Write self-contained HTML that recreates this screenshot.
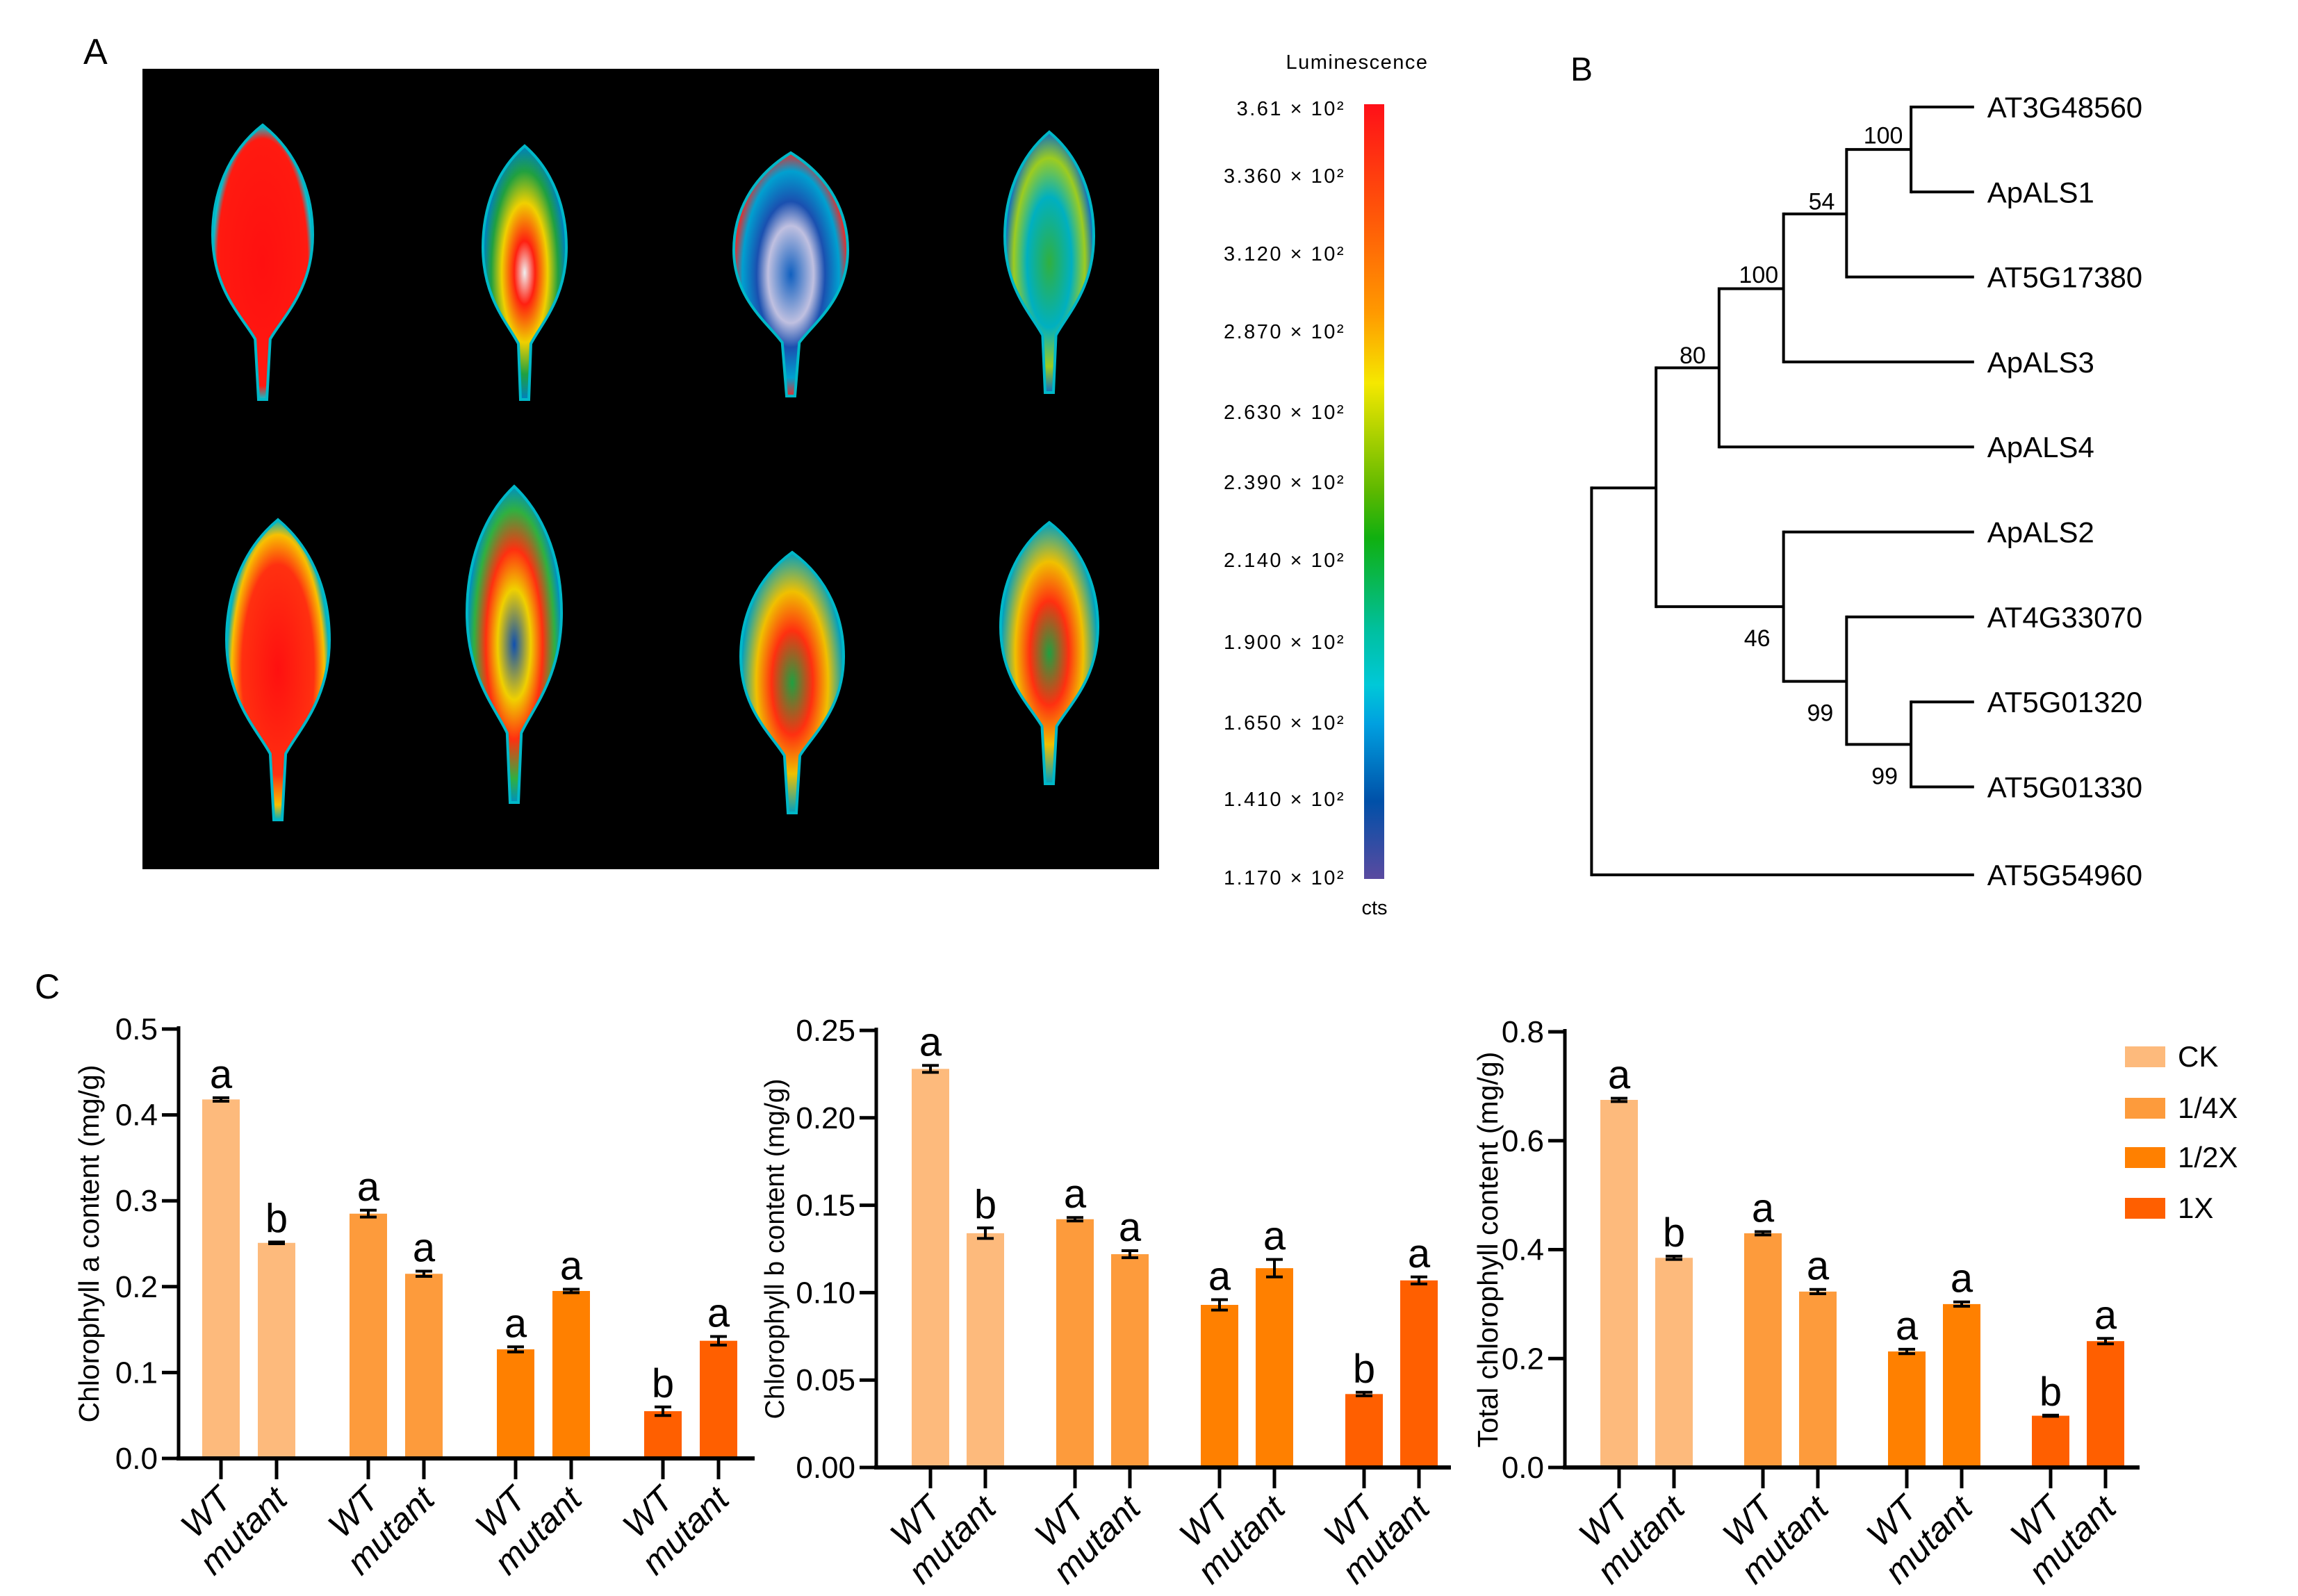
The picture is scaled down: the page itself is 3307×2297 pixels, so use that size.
<!DOCTYPE html>
<html><head><meta charset="utf-8"><style>
body{margin:0;background:#fff}
svg{display:block;font-family:"Liberation Sans",Arial,sans-serif}
</style></head><body>
<svg id="fig" width="3307" height="2297" viewBox="0 0 3307 2297" xmlns="http://www.w3.org/2000/svg">
<defs>
<linearGradient id="cbar" x1="0" y1="0" x2="0" y2="1">
<stop offset="0" stop-color="#ff1018"/><stop offset="0.15" stop-color="#ff5a08"/><stop offset="0.27" stop-color="#ff9a00"/><stop offset="0.36" stop-color="#f5e800"/><stop offset="0.5" stop-color="#5cb800"/><stop offset="0.56" stop-color="#10b010"/><stop offset="0.68" stop-color="#00c0a0"/><stop offset="0.75" stop-color="#00c8d8"/><stop offset="0.8" stop-color="#00a0e0"/><stop offset="0.9" stop-color="#0050a8"/><stop offset="1" stop-color="#5a4aa0"/>
</linearGradient>
<radialGradient id="gRed"><stop offset="0" stop-color="#ff1010"/><stop offset="0.9" stop-color="#ff1a10"/><stop offset="1" stop-color="#00c8d8"/></radialGradient>
<radialGradient id="gMix1"><stop offset="0" stop-color="#f0f0f0"/><stop offset="0.25" stop-color="#ff2010"/><stop offset="0.55" stop-color="#f0d000"/><stop offset="0.8" stop-color="#20a040"/><stop offset="1" stop-color="#0080c0"/></radialGradient>
<radialGradient id="gBlue"><stop offset="0" stop-color="#1060c0"/><stop offset="0.4" stop-color="#c0c0e0"/><stop offset="0.6" stop-color="#1a50b0"/><stop offset="0.85" stop-color="#00a0d0"/><stop offset="1" stop-color="#e03030"/></radialGradient>
<radialGradient id="gGreen"><stop offset="0" stop-color="#30b040"/><stop offset="0.5" stop-color="#00b0c0"/><stop offset="0.8" stop-color="#9ccc20"/><stop offset="1" stop-color="#1070c0"/></radialGradient>
<radialGradient id="gRedO"><stop offset="0" stop-color="#ff1010"/><stop offset="0.7" stop-color="#ff3010"/><stop offset="0.9" stop-color="#f8c000"/><stop offset="1" stop-color="#00b0c0"/></radialGradient>
<radialGradient id="gMix2"><stop offset="0" stop-color="#1050b0"/><stop offset="0.35" stop-color="#f0d000"/><stop offset="0.6" stop-color="#ff3010"/><stop offset="0.85" stop-color="#30b040"/><stop offset="1" stop-color="#0090c0"/></radialGradient>
<radialGradient id="gMix3"><stop offset="0" stop-color="#20a040"/><stop offset="0.4" stop-color="#ff3010"/><stop offset="0.7" stop-color="#f0c000"/><stop offset="1" stop-color="#00a0c0"/></radialGradient>
</defs>
<g id="panelA"></g>
<g id="panelB"></g>
<g id="panelC"></g>
</svg>
<script>
const NS="http://www.w3.org/2000/svg";
function mk(tag,attrs,parent,text){const e=document.createElementNS(NS,tag);for(const k in attrs)e.setAttribute(k,attrs[k]);if(text!==undefined)e.textContent=text;parent.appendChild(e);return e;}

// ---------- Panel C data ----------
const groups=["CK","1/4X","1/2X","1X"];
const genotypes=["WT","mutant"];
const chlA=[0.418,0.251,0.285,0.215,0.127,0.195,0.055,0.137];
const chlAErr=[0.002,0.001,0.004,0.003,0.003,0.002,0.005,0.005];
const chlB=[0.228,0.134,0.142,0.122,0.093,0.114,0.042,0.107];
const chlBErr=[0.002,0.003,0.001,0.002,0.003,0.005,0.001,0.002];
const chlT=[0.675,0.385,0.430,0.323,0.213,0.300,0.095,0.232];
const chlTErr=[0.003,0.003,0.003,0.004,0.004,0.004,0.001,0.005];
const letters=["a","b","a","a","a","a","b","a"];
const ticksA=[0,0.1,0.2,0.3,0.4,0.5];
const ticksB=[0,0.05,0.10,0.15,0.20,0.25];
const ticksT=[0,0.2,0.4,0.6,0.8];
const groupColors=["#fdba7c","#fd9b3c","#ff8000","#ff5f00"];

// ---------- Panel A ----------
const A=document.getElementById('panelA');
const labA=mk('text',{x:120,y:92,'font-size':52},A,'A');

const bg=mk('rect',{x:205,y:99,width:1463,height:1152,fill:'#000'},A);

function leaf(cx,top,bot,hw,fill,name){
  const h=bot-top;const w=top+h*0.4;const pet=top+h*0.78;
  const d=`M${cx},${top} C${cx+hw*0.7},${top+h*0.1} ${cx+hw},${top+h*0.25} ${cx+hw},${w} C${cx+hw},${top+h*0.6} ${cx+hw*0.4},${top+h*0.7} ${cx+hw*0.15},${pet} L${cx+6},${bot} L${cx-6},${bot} L${cx-hw*0.15},${pet} C${cx-hw*0.4},${top+h*0.7} ${cx-hw},${top+h*0.6} ${cx-hw},${w} C${cx-hw},${top+h*0.25} ${cx-hw*0.7},${top+h*0.1} ${cx},${top}Z`;
  const p=mk('path',{d:d,fill:fill,stroke:'#00b8c8','stroke-width':4},A);
  
}
leaf(378,180,575,72,'url(#gRed)','leaf-1');
leaf(755,210,575,60,'url(#gMix1)','leaf-2');
leaf(1138,220,570,82,'url(#gBlue)','leaf-3');
leaf(1510,190,565,64,'url(#gGreen)','leaf-4');
leaf(400,748,1180,74,'url(#gRedO)','leaf-5');
leaf(740,700,1155,68,'url(#gMix2)','leaf-6');
leaf(1140,795,1170,74,'url(#gMix3)','leaf-7');
leaf(1510,752,1128,70,'url(#gMix3)','leaf-8');
const cb=mk('rect',{x:1963,y:150,width:29,height:1115,fill:'url(#cbar)'},A);

const lt=mk('text',{x:1953,y:99,'font-size':29,'text-anchor':'middle','letter-spacing':1.5},A,'Luminescence');

const cts=mk('text',{x:1978,y:1316,'font-size':29,'text-anchor':'middle'},A,'cts');

const cbLabels=["3.61","3.360","3.120","2.870","2.630","2.390","2.140","1.900","1.650","1.410","1.170"];
const cbY=[156,253,365,477,593,694,806,924,1040,1150,1263];
cbLabels.forEach((l,i)=>{
  const t=mk('text',{x:1936,y:cbY[i]+10,'font-size':29,'text-anchor':'end','letter-spacing':2.5},A);
  
  t.textContent=l+' \u00d7 10\u00b2';
});

// ---------- Panel B (tree) ----------
const B=document.getElementById('panelB');
const s=2.109;
const labB=mk('text',{x:2260,y:116,'font-size':48},B,'B');

const taxa=["AT3G48560","ApALS1","AT5G17380","ApALS3","ApALS4","ApALS2","AT4G33070","AT5G01320","AT5G01330","AT5G54960"];
const ty=[73,131,189,247,305,363,421,479,537,597];
const tx=[1304,1304,1260,1217,1173,1217,1260,1304,1304,1086];
taxa.forEach((n,i)=>{
  const l=mk('line',{x1:tx[i]*s,y1:ty[i]*s,x2:1347*s,y2:ty[i]*s,stroke:'#000','stroke-width':4},B);
  
  const t=mk('text',{x:1356*s,y:ty[i]*s+15,'font-size':42},B,n);
  
});
const nodes=[[1304,73,131,1260,102],[1260,102,189,1217,146],[1217,146,247,1173,197],[1173,197,305,1130,251],[1304,479,537,1260,508],[1260,421,508,1217,465],[1217,363,465,1130,414],[1130,251,414,1086,333],[1086,333,597,1086,465]];
nodes.forEach(n=>{
  const v=mk('line',{x1:n[0]*s,y1:n[1]*s-2,x2:n[0]*s,y2:n[2]*s+2,stroke:'#000','stroke-width':4},B);
  
  if(n[3]!==n[0]){const h=mk('line',{x1:n[3]*s,y1:n[4]*s,x2:n[0]*s,y2:n[4]*s,stroke:'#000','stroke-width':4},B);
  }
});
const boot=[["100",1285,98],["54",1243,143],["100",1200,193],["80",1155,248],["46",1199,441],["99",1242,492],["99",1286,535]];
boot.forEach(b=>{
  const t=mk('text',{x:b[1]*s,y:b[2]*s,'font-size':34,'text-anchor':'middle'},B,b[0]);
  
});

// ---------- Panel C charts ----------
const C=document.getElementById('panelC');
const labC=mk('text',{x:50,y:1437,'font-size':50},C,'C');

function chart(cfg,vals,errs,ticks,fmt,title,name){
  const g=mk('g',{},C);
  
  const max=ticks[ticks.length-1];
  const y=v=>cfg.zero-(v/max)*(cfg.zero-cfg.top);
  const xc=i=>cfg.ax+cfg.off+Math.floor(i/2)*cfg.gs+(i%2)*cfg.ws;
  vals.forEach((v,i)=>{
    const col=groupColors[Math.floor(i/2)];
    const r=mk('rect',{x:xc(i)-27,y:y(v),width:54,height:cfg.zero-y(v),fill:col},g);
    
    
    const e=errs[i];
    const eb=mk('path',{d:`M${xc(i)},${y(v+e)} V${y(v-e)} M${xc(i)-12},${y(v+e)} H${xc(i)+12} M${xc(i)-12},${y(v-e)} H${xc(i)+12}`,stroke:'#000','stroke-width':4,fill:'none'},g);
    
    const lt=mk('text',{x:xc(i),y:y(v+e)-14,'font-size':58,'text-anchor':'middle'},g,letters[i]);
    
    const tk=mk('line',{x1:xc(i),y1:cfg.zero,x2:xc(i),y2:cfg.zero+30,stroke:'#000','stroke-width':5},g);
    
    const tx=xc(i)+18, ty=cfg.zero+62;
    const xl=mk('text',{x:tx,y:ty,'font-size':50,'font-style':'italic','text-anchor':'end',transform:`rotate(-45 ${tx} ${ty})`},g,genotypes[i%2]);
    
  });
  const ya=mk('line',{x1:cfg.ax,y1:cfg.top-4,x2:cfg.ax,y2:cfg.zero+3,stroke:'#000','stroke-width':5},g);
  
  const xa=mk('line',{x1:cfg.ax-3,y1:cfg.zero,x2:cfg.end,y2:cfg.zero,stroke:'#000','stroke-width':6},g);
  
  ticks.forEach(t=>{
    const l=mk('line',{x1:cfg.ax-24,y1:y(t),x2:cfg.ax,y2:y(t),stroke:'#000','stroke-width':5},g);
    
    const tl=mk('text',{x:cfg.ax-30,y:y(t)+15,'font-size':44,'text-anchor':'end'},g,fmt(t));
    
  });
  const mid=(cfg.zero+cfg.top)/2;
  const yt=mk('text',{x:cfg.tx,y:mid,'font-size':cfg.tf,'text-anchor':'middle',transform:`rotate(-90 ${cfg.tx} ${mid})`},g,title);
  
}
chart({ax:257,zero:2099,top:1481,end:1086,off:61,gs:212,ws:80,tx:142,tf:41},chlA,chlAErr,ticksA,t=>t.toFixed(1),'Chlorophyll a content (mg/g)','chart-chlorophyll-a');
chart({ax:1261,zero:2112,top:1483,end:2088,off:78,gs:208,ws:79,tx:1128,tf:39},chlB,chlBErr,ticksB,t=>t.toFixed(2),'Chlorophyll b content (mg/g)','chart-chlorophyll-b');
chart({ax:2252,zero:2112,top:1485,end:3079,off:78,gs:207,ws:79,tx:2155,tf:41},chlT,chlTErr,ticksT,t=>t.toFixed(1),'Total chlorophyll content (mg/g)','chart-total-chlorophyll');

const legY=[1520,1594,1665,1738];
groups.forEach((gname,i)=>{
  const r=mk('rect',{x:3058,y:legY[i]-14,width:58,height:30,fill:groupColors[i]},C);
  
  const t=mk('text',{x:3134,y:legY[i]+15,'font-size':42},C,gname);
  
});
</script>
</body></html>
